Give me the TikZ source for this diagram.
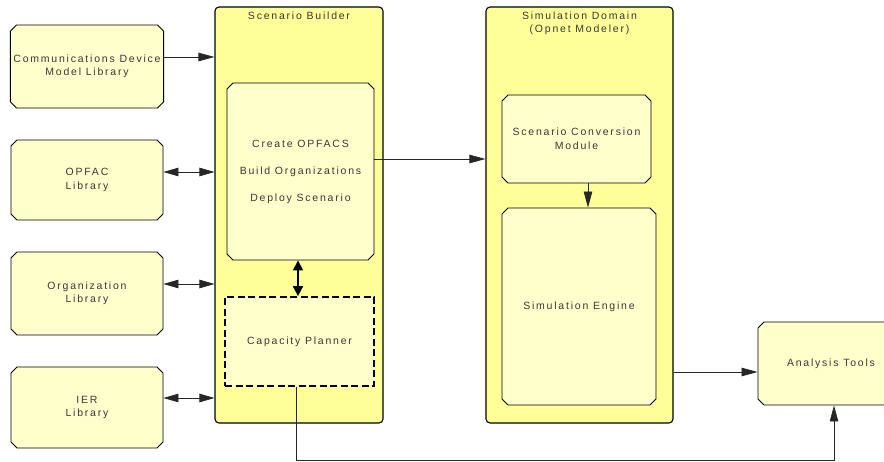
\documentclass[tikz,border=0pt]{standalone}
\usepackage{fontspec}
\usetikzlibrary{positioning,arrows.meta,shapes.misc}
\newfontfamily\lblfont[LetterSpace=17]{Liberation Sans}
\definecolor{panelfill}{RGB}{255,255,153}
\definecolor{boxfill}{RGB}{255,255,204}
\definecolor{inkgray}{RGB}{55,55,55}

\begin{document}
\begin{tikzpicture}[x=1pt, y=-1pt,
  font=\lblfont\fontsize{10.5}{13.5}\selectfont, text=inkgray,
  box/.style={chamfered rectangle, chamfered rectangle xsep=3pt, chamfered rectangle ysep=3pt, draw=black, fill=boxfill, line width=0.9pt, align=center, inner sep=0pt},
  panel/.style={rectangle, rounded corners=4pt, draw=black, fill=panelfill, line width=1.1pt, inner sep=0pt},
  plan/.style={rectangle, draw=black, fill=boxfill, align=center, inner sep=0pt, dash pattern=on 7pt off 3.5pt, line width=1.7pt},
  title/.style={anchor=north, align=center, inner sep=0pt},
  arr/.style={-{Triangle[length=16pt, width=8.5pt]}, draw=black!85, line width=0.7pt},
  dbl/.style={{Triangle[length=15pt, width=8.5pt]}-{Triangle[length=15pt, width=8.5pt]}, draw=black!85, line width=0.7pt},
  thick dbl/.style={{Triangle[length=10pt, width=10pt]}-{Triangle[length=10pt, width=10pt]}, draw=black, line width=1.6pt}]
\useasboundingbox (0,0) rectangle (884,462);
% libraries on the left
\node[box, minimum width=152pt, minimum height=83pt] (comms) at (87,66.5) {Communications Device\\Model Library};
\node[box, minimum width=152pt, minimum height=80pt] (opfac) at (87,180) {OPFAC\\Library};
\node[box, minimum width=152pt, minimum height=83pt] (org) at (87,293.5) {Organization\\Library};
\node[box, minimum width=152pt, minimum height=81pt] (ier) at (87,407.5) {IER\\Library};
% scenario builder
\node[panel, minimum width=168pt, minimum height=416pt] (builder) at (299,215) {};
\node[title] (buildertitle) at ([yshift=-5pt]builder.north) {Scenario Builder};
\node[box, minimum width=147pt, minimum height=177pt, font=\lblfont\fontsize{10.5}{27}\selectfont] (steps) at (300.5,171.5) {Create OPFACS\\Build Organizations\\Deploy Scenario};
\node[plan, minimum width=149pt, minimum height=89pt] (planner) at (299.5,341.5) {Capacity Planner};
% simulation domain
\node[panel, minimum width=187pt, minimum height=416pt] (domain) at (579.5,215) {};
\node[title] (domaintitle) at ([yshift=-5pt]domain.north) {Simulation Domain\\(Opnet Modeler)};
\node[box, minimum width=149pt, minimum height=88pt] (convert) at (576.5,139) {Scenario Conversion\\Module};
\node[box, minimum width=154pt, minimum height=197pt] (engine) at (579,306.5) {Simulation Engine};
\node[box, minimum width=146pt, minimum height=83pt] (analysis) at (831,363.5) {Analysis Tools};
% connectors
\draw[arr] ([yshift=9.5pt]comms.east) coordinate (c0) -- (c0 -| builder.west);
\foreach \n/\s in {opfac/8, org/9.5, ier/9.5}
  \draw[dbl] ([yshift=\s pt]\n.east) coordinate (c1) -- (c1 -| builder.west);
\draw[thick dbl] ([xshift=-2.5pt]steps.south) coordinate (c2) -- (c2 |- planner.north);
\draw[arr] ([yshift=12.5pt]steps.east) coordinate (c3) -- (c3 -| domain.west);
\draw[arr] ([xshift=11.5pt]convert.south) coordinate (c4) -- (c4 |- engine.north);
\draw[arr] ([yshift=-8.5pt]analysis.west) coordinate (c5) (c5 -| domain.east) -- (c5);
\draw[arr] ([xshift=-3.5pt]planner.south) -- ++(0,73.5) -| ([xshift=3pt]analysis.south);
\end{tikzpicture}
\end{document}
